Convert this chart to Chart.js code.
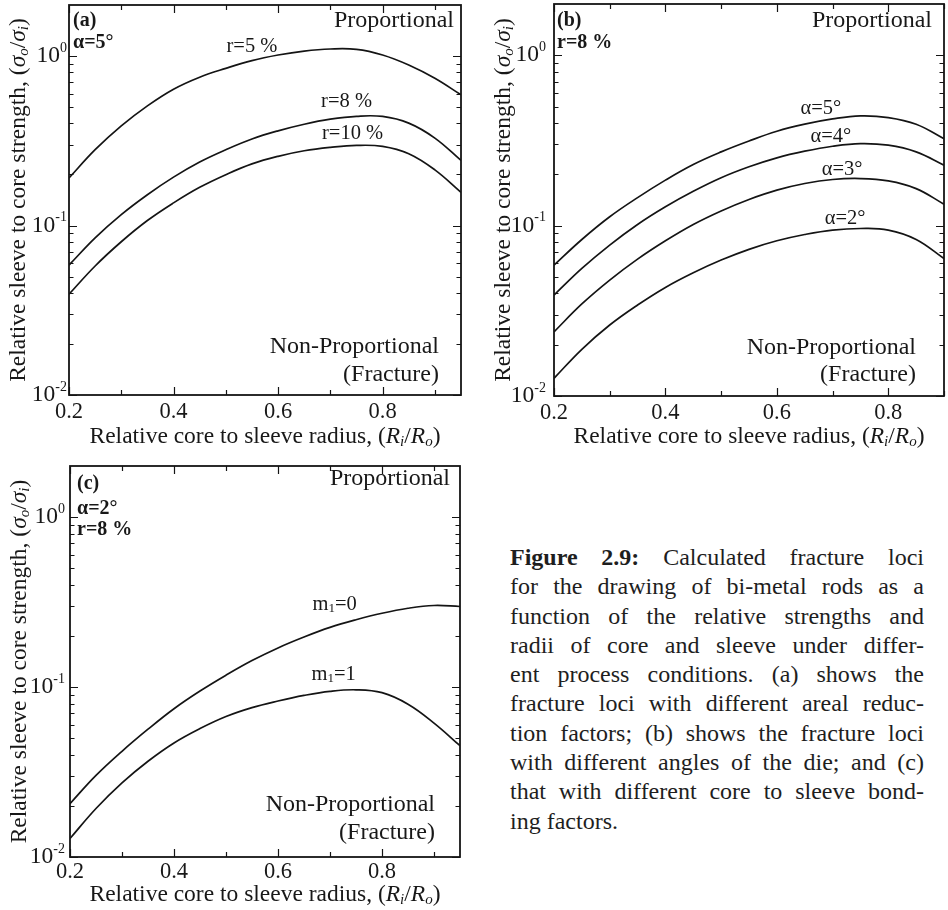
<!DOCTYPE html>
<html>
<head>
<meta charset="utf-8">
<script src="https://cdn.jsdelivr.net/npm/chart.js@4.4.0/dist/chart.umd.min.js"></script>
<style>
body { margin: 0; background: #fff; width: 948px; height: 910px; position: relative; overflow: hidden; }
canvas { position: absolute; }
#caption { position: absolute; left: 510px; top: 543px; width: 414px; font: 24px 'Liberation Serif', serif; line-height: 29.3px; color: #1e1e1e; }
#caption div { text-align: justify; text-align-last: justify; }
#caption div.last { text-align-last: left; }
</style>
</head>
<body>
<canvas id="chartA" width="474" height="450" style="left:0;top:0"></canvas>
<canvas id="chartB" width="474" height="450" style="left:474px;top:0"></canvas>
<canvas id="chartC" width="474" height="460" style="left:0;top:450px"></canvas>
<div id="caption">
  <div><b>Figure 2.9:</b> Calculated fracture loci</div>
  <div>for the drawing of bi-metal rods as a</div>
  <div>function of the relative strengths and</div>
  <div>radii of core and sleeve under differ-</div>
  <div>ent process conditions. (a) shows the</div>
  <div>fracture loci with different areal reduc-</div>
  <div>tion factors; (b) shows the fracture loci</div>
  <div>with different angles of the die; and (c)</div>
  <div>that with different core to sleeve bond-</div>
  <div class="last">ing factors.</div>
</div>
<script>
// --- values ---
const xA = [0.2, 0.25, 0.3, 0.35, 0.4, 0.45, 0.5, 0.55, 0.6, 0.65, 0.7, 0.75, 0.8, 0.85, 0.9, 0.95];
const r5 = [0.1906, 0.28, 0.387, 0.508, 0.637, 0.75, 0.846, 0.94, 1.014, 1.07, 1.1, 1.094, 1.014, 0.885, 0.739, 0.59];
const r8 = [0.0584, 0.0846, 0.116, 0.152, 0.193, 0.237, 0.28, 0.324, 0.362, 0.396, 0.424, 0.441, 0.44, 0.402, 0.328, 0.242];
const r10 = [0.0393, 0.0577, 0.0802, 0.107, 0.136, 0.168, 0.1995, 0.231, 0.256, 0.276, 0.289, 0.297, 0.293, 0.265, 0.213, 0.157];

const xB = [0.2, 0.25, 0.3, 0.35, 0.4, 0.45, 0.5, 0.55, 0.6, 0.65, 0.7, 0.75, 0.8, 0.85, 0.9];
const a5 = [0.0586, 0.0829, 0.1127, 0.146, 0.185, 0.2285, 0.271, 0.314, 0.358, 0.394, 0.423, 0.441, 0.431, 0.394, 0.324];
const a4 = [0.0391, 0.0561, 0.0769, 0.1016, 0.129, 0.159, 0.191, 0.2215, 0.25, 0.2735, 0.2925, 0.303, 0.2966, 0.271, 0.2265];
const a3 = [0.0238, 0.0347, 0.0479, 0.0636, 0.0815, 0.1016, 0.122, 0.1425, 0.1616, 0.1767, 0.1866, 0.189, 0.183, 0.165, 0.1337];
const a2 = [0.0127, 0.0188, 0.0261, 0.0342, 0.0434, 0.0529, 0.0628, 0.0726, 0.0815, 0.0887, 0.0942, 0.0962, 0.0942, 0.083, 0.0641];

const xC = [0.2, 0.25, 0.3, 0.35, 0.4, 0.45, 0.5, 0.55, 0.6, 0.65, 0.7, 0.75, 0.8, 0.85, 0.9, 0.95];
const m0 = [0.0206, 0.0302, 0.0419, 0.0565, 0.0746, 0.0948, 0.1175, 0.1432, 0.17, 0.197, 0.2244, 0.249, 0.272, 0.291, 0.302, 0.298];
const m1 = [0.01285, 0.0193, 0.0273, 0.0366, 0.0469, 0.057, 0.0671, 0.0757, 0.0828, 0.0893, 0.0944, 0.0964, 0.0927, 0.0793, 0.0614, 0.0452];

const xTickLabels = [0.2, 0.4, 0.6, 0.8];
const yDecades = [0.01, 0.1, 1];
const yDecadeLabels = ['-2', '-1', '0'];
const yMinorSteps = [2, 3, 4, 5, 6, 7, 8, 9];

const SERIF = "'Liberation Serif', 'Times New Roman', serif";
const INK = '#141414';

function richText(ctx, parts, x, y, align) {
    let w = 0;
    parts.forEach(p => { ctx.font = p.font; p.w = ctx.measureText(p.text).width; w += p.w; });
    let cx = align === 'center' ? x - w / 2 : align === 'right' ? x - w : x;
    ctx.textAlign = 'left';
    ctx.textBaseline = 'middle';
    parts.forEach(p => { ctx.font = p.font; ctx.fillText(p.text, cx, y + (p.dy || 0)); cx += p.w; });
}

const fT = '23.5px ' + SERIF, iT = 'italic 23.5px ' + SERIF, iS = 'italic 15px ' + SERIF;
const yTitle = [
    {text: 'Relative sleeve to core strength, (', font: fT},
    {text: 'σ', font: iT}, {text: 'o', font: iS, dy: 5},
    {text: '/', font: fT},
    {text: 'σ', font: iT}, {text: 'i', font: iS, dy: 5},
    {text: ')', font: fT}
];
const xTitle = [
    {text: 'Relative core to sleeve radius, (', font: fT},
    {text: 'R', font: iT}, {text: 'i', font: iS, dy: 5},
    {text: '/', font: fT},
    {text: 'R', font: iT}, {text: 'o', font: iS, dy: 5},
    {text: ')', font: fT}
];

function framePlugin(o) {
    return {
        id: 'frame',
        afterDraw(chart) {
            const ctx = chart.ctx, ca = chart.chartArea;
            const xs = chart.scales.x, ys = chart.scales.y;
            ctx.save();
            ctx.strokeStyle = INK;
            ctx.fillStyle = '#181818';
            ctx.lineWidth = 1.8;
            ctx.strokeRect(ca.left, ca.top, ca.right - ca.left, ca.bottom - ca.top);

            // inward ticks on all four sides
            ctx.lineWidth = 1.2;
            ctx.beginPath();
            xs.ticks.forEach(t => {
                const px = Math.round(xs.getPixelForValue(t.value)) + 0.5;
                const len = xTickLabels.some(v => Math.abs(v - t.value) < 1e-6) ? 8 : 5;
                ctx.moveTo(px, ca.bottom); ctx.lineTo(px, ca.bottom - len);
                ctx.moveTo(px, ca.top); ctx.lineTo(px, ca.top + len);
            });
            yDecades.forEach(d => {
                [1].concat(yMinorSteps).forEach(m => {
                    const v = d * m;
                    if (v >= ys.max) return;
                    const py = Math.round(ys.getPixelForValue(v)) + 0.5;
                    const len = m === 1 ? 8 : 4.5;
                    ctx.moveTo(ca.left, py); ctx.lineTo(ca.left + len, py);
                    ctx.moveTo(ca.right, py); ctx.lineTo(ca.right - len, py);
                });
            });
            ctx.stroke();

            // y tick labels: 10 with raised exponent
            yDecades.forEach((d, i) => {
                const py = ys.getPixelForValue(d);
                richText(ctx, [
                    {text: '10', font: '23.5px ' + SERIF},
                    {text: yDecadeLabels[i], font: '14px ' + SERIF, dy: -8}
                ], ca.left - o.yLabGap, py, 'right');
            });

            // axis titles
            richText(ctx, xTitle, (ca.left + ca.right) / 2, ca.bottom + o.xTitleDy, 'center');
            ctx.save();
            ctx.translate(ca.left - 50, (ca.top + ca.bottom) / 2);
            ctx.rotate(-Math.PI / 2);
            richText(ctx, yTitle, 0, 0, 'center');
            ctx.restore();

            // corner notes
            const bN = 'bold 20px ' + SERIF, fN = '24px ' + SERIF;
            o.notes.forEach((n, i) => {
                richText(ctx, [{text: n, font: bN}], ca.left + o.noteDx, ca.top + o.noteY[i], 'left');
            });
            richText(ctx, [{text: 'Proportional', font: fN}], ca.right - o.propDx, ca.top + o.propDy, 'right');
            richText(ctx, [{text: 'Non-Proportional', font: fN}], ca.right - o.nonDx, ca.bottom - o.nonDy[0], 'right');
            richText(ctx, [{text: '(Fracture)', font: fN}], ca.right - o.nonDx, ca.bottom - o.nonDy[1], 'right');

            // curve labels, anchored in data space
            o.curveLabels.forEach(l => {
                richText(ctx, l.parts, xs.getPixelForValue(l.x), ys.getPixelForValue(l.y), 'center');
            });
            ctx.restore();
        }
    };
}

function plain(t) { return [{text: t, font: '20.5px ' + SERIF}]; }
function mLabel(v) {
    return [{text: 'm', font: '20.5px ' + SERIF}, {text: '1', font: '13px ' + SERIF, dy: 4}, {text: '=' + v, font: '20.5px ' + SERIF}];
}

function makePanel(id, o) {
    return new Chart(document.getElementById(id), {
        type: 'line',
        data: {
            datasets: o.series.map(s => ({
                data: o.x.map((v, i) => ({x: v, y: s[i]})),
                borderColor: INK,
                borderWidth: 1.7,
                pointRadius: 0,
                fill: false,
                tension: 0.4
            }))
        },
        options: {
            responsive: false,
            animation: false,
            events: [],
            layout: {padding: o.pad},
            plugins: {legend: {display: false}, tooltip: {enabled: false}},
            scales: {
                x: {
                    type: 'linear', min: 0.2, max: o.xMax,
                    grid: {display: false, drawTicks: false},
                    border: {display: false},
                    ticks: {
                        stepSize: 0.1, includeBounds: false, padding: o.xPad, maxRotation: 0, autoSkip: false,
                        color: '#181818', font: {family: SERIF, size: 22.5},
                        callback: v => xTickLabels.some(t => Math.abs(t - v) < 1e-6) ? v.toFixed(1) : ''
                    },
                    afterFit: s => { s.height = o.xH; }
                },
                y: {
                    type: 'logarithmic', min: 0.01, max: 2,
                    grid: {display: false},
                    border: {display: false},
                    ticks: {display: false},
                    afterFit: s => { s.width = o.yW; }
                }
            }
        },
        plugins: [framePlugin(o)]
    });
}

makePanel('chartA', {
    x: xA, series: [r5, r8, r10], xMax: 0.95,
    pad: {left: 0, top: 5, right: 13, bottom: 0}, yW: 69, xH: 55, xPad: 4,
    yLabGap: 2, xTitleDy: 42,
    notes: ['(a)', 'α=5°'], noteDx: 4, noteY: [16, 38],
    propDx: 7, propDy: 16, nonDx: 22, nonDy: [48, 20],
    curveLabels: [
        {parts: plain('r=5 %'), x: 0.55, y: 1.13},
        {parts: plain('r=8 %'), x: 0.731, y: 0.537},
        {parts: plain('r=10 %'), x: 0.7425, y: 0.348}
    ]
});

makePanel('chartB', {
    x: xB, series: [a5, a4, a3, a2], xMax: 0.9,
    pad: {left: 0, top: 4, right: 2, bottom: 0}, yW: 80, xH: 54, xPad: 4,
    yLabGap: 8, xTitleDy: 41,
    notes: ['(b)', 'r=8 %'], noteDx: 3, noteY: [17, 39],
    propDx: 12, propDy: 17, nonDx: 28, nonDy: [48, 21],
    curveLabels: [
        {parts: plain('α=5°'), x: 0.679, y: 0.487},
        {parts: plain('α=4°'), x: 0.697, y: 0.332},
        {parts: plain('α=3°'), x: 0.717, y: 0.213},
        {parts: plain('α=2°'), x: 0.7225, y: 0.110}
    ]
});

makePanel('chartC', {
    x: xC, series: [m0, m1], xMax: 0.95,
    pad: {left: 0, top: 16, right: 14, bottom: 0}, yW: 70, xH: 53, xPad: 2,
    yLabGap: 5, xTitleDy: 38,
    notes: ['(c)', 'α=2°', 'r=8 %'], noteDx: 7, noteY: [18, 43, 64],
    propDx: 10, propDy: 13, nonDx: 25, nonDy: [52, 24],
    curveLabels: [
        {parts: mLabel(0), x: 0.709, y: 0.304},
        {parts: mLabel(1), x: 0.707, y: 0.1186}
    ]
});
</script>
</body>
</html>
